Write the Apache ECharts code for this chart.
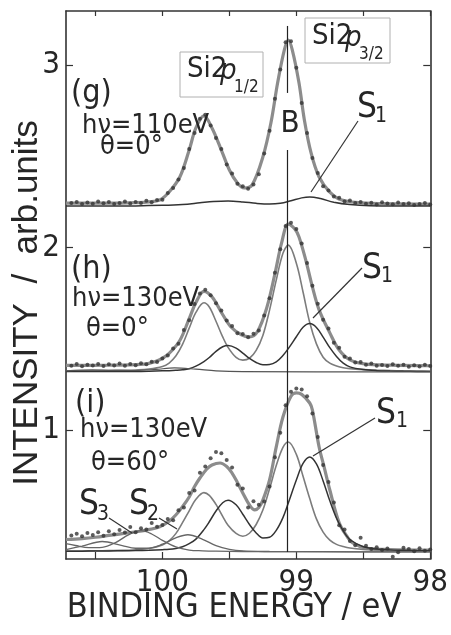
<!DOCTYPE html>
<html><head><meta charset="utf-8">
<script src="https://cdn.jsdelivr.net/npm/echarts@6/dist/echarts.min.js"></script>
<style>html,body{margin:0;padding:0;background:#fff}#c{width:451px;height:635px}</style>
</head><body><div id="c"></div>
<script>
// ---------- data (binding energy in eV, intensity in arb. units) ----------
const xTicks = [98, 98.5, 99, 99.5, 100, 100.5];
const xLabels = [98, 99, 100];
const yTicks = [1, 2, 3];

const dotE = [98.00,98.04,98.08,98.12,98.16,98.20,98.24,98.28,98.32,98.36,98.40,98.44,98.48,98.52,98.56,98.60,98.64,98.68,98.72,98.76,98.80,98.84,98.88,98.92,98.96,99.00,99.04,99.08,99.12,99.16,99.20,99.24,99.28,99.32,99.36,99.40,99.44,99.48,99.52,99.56,99.60,99.64,99.68,99.72,99.76,99.80,99.84,99.88,99.92,99.96,100.00,100.04,100.08,100.12,100.16,100.20,100.24,100.28,100.32,100.36,100.40,100.44,100.48,100.52,100.56,100.60,100.64,100.68];

// (g) hv=110eV, theta=0
const gDots = [2.236,2.244,2.239,2.233,2.243,2.238,2.246,2.237,2.241,2.248,2.236,2.245,2.240,2.250,2.244,2.257,2.252,2.272,2.280,2.312,2.336,2.408,2.490,2.628,2.792,2.985,3.130,3.125,2.975,2.815,2.640,2.515,2.402,2.345,2.322,2.335,2.350,2.405,2.455,2.540,2.600,2.668,2.728,2.706,2.628,2.540,2.436,2.372,2.326,2.298,2.262,2.260,2.248,2.256,2.244,2.250,2.241,2.252,2.244,2.238,2.249,2.243,2.252,2.240,2.246,2.238,2.250,2.244];
const gFitE = [98.00,98.48,98.66,98.75,98.83,98.89,98.94,98.98,99.03,99.06,99.09,99.14,99.19,99.25,99.33,99.39,99.44,99.50,99.56,99.63,99.69,99.75,99.80,99.87,99.95,100.02,100.10,100.20,100.40,100.72];
const gFitV = [2.238,2.243,2.260,2.304,2.386,2.518,2.699,2.901,3.082,3.137,3.082,2.901,2.682,2.496,2.343,2.326,2.353,2.425,2.534,2.655,2.721,2.655,2.534,2.386,2.304,2.260,2.250,2.246,2.243,2.243];
const gS1E = [98.00,98.45,98.60,98.72,98.82,98.90,98.96,99.04,99.12,99.20,99.30,99.40,99.51,99.62,99.72,99.85,100.00,100.20,100.72];
const gS1V = [2.227,2.229,2.235,2.248,2.268,2.277,2.272,2.256,2.242,2.238,2.242,2.250,2.255,2.252,2.245,2.236,2.231,2.228,2.227];

// (h) hv=130eV, theta=0
const hDots = [1.350,1.358,1.348,1.355,1.346,1.357,1.352,1.360,1.350,1.356,1.352,1.364,1.358,1.372,1.370,1.392,1.402,1.450,1.478,1.556,1.604,1.692,1.790,1.915,2.022,2.102,2.135,2.118,1.990,1.862,1.722,1.628,1.545,1.528,1.508,1.526,1.530,1.570,1.600,1.655,1.695,1.738,1.768,1.748,1.690,1.602,1.548,1.472,1.446,1.408,1.392,1.372,1.374,1.360,1.366,1.355,1.362,1.352,1.364,1.354,1.360,1.350,1.362,1.354,1.358,1.349,1.361,1.352];
const hFitE = [98.00,98.30,98.49,98.60,98.68,98.75,98.83,98.88,98.93,98.98,99.01,99.06,99.11,99.16,99.22,99.29,99.35,99.41,99.49,99.56,99.63,99.69,99.75,99.80,99.87,99.95,100.02,100.10,100.20,100.40,100.72];
const hFitV = [1.352,1.355,1.362,1.384,1.438,1.532,1.658,1.784,1.932,2.058,2.100,2.128,2.025,1.855,1.672,1.540,1.510,1.522,1.566,1.645,1.730,1.760,1.698,1.610,1.490,1.420,1.385,1.365,1.358,1.355,1.354];
const compE = [98.00,98.10,98.20,98.30,98.40,98.50,98.60,98.65,98.70,98.75,98.80,98.85,98.90,98.95,99.00,99.06,99.10,99.15,99.20,99.25,99.30,99.35,99.40,99.45,99.51,99.55,99.60,99.65,99.69,99.75,99.80,99.85,99.90,99.95,100.00,100.10,100.20,100.30,100.40,100.50,100.60,100.72];
const hBulkV = [1.322,1.323,1.324,1.326,1.328,1.331,1.336,1.341,1.351,1.366,1.399,1.472,1.589,1.756,1.914,2.013,1.968,1.821,1.657,1.518,1.436,1.393,1.383,1.398,1.453,1.510,1.596,1.674,1.697,1.644,1.558,1.469,1.405,1.367,1.348,1.334,1.329,1.327,1.326,1.325,1.324,1.323];
const hS1V = [1.320,1.321,1.322,1.323,1.325,1.331,1.346,1.366,1.403,1.451,1.509,1.562,1.583,1.563,1.511,1.446,1.408,1.373,1.359,1.358,1.370,1.392,1.421,1.449,1.463,1.456,1.431,1.397,1.375,1.350,1.336,1.330,1.327,1.325,1.324,1.322,1.321,1.321,1.321,1.320,1.320,1.320];
const hS2E = [98.00,99.40,99.60,99.75,99.91,100.05,100.20,100.40,100.52,100.72];
const hS2V = [1.318,1.320,1.324,1.333,1.340,1.332,1.326,1.327,1.329,1.324];

// (i) hv=130eV, theta=60
const iDots = [0.345,0.338,0.352,0.336,0.348,0.355,0.330,0.306,0.350,0.342,0.358,0.348,0.365,0.410,0.368,0.392,0.455,0.478,0.602,0.715,0.808,0.962,1.090,1.185,1.222,1.228,1.210,1.135,0.985,0.850,0.690,0.608,0.590,0.610,0.575,0.680,0.700,0.795,0.835,0.872,0.880,0.845,0.800,0.765,0.668,0.655,0.575,0.560,0.505,0.512,0.480,0.470,0.490,0.455,0.462,0.440,0.468,0.438,0.452,0.428,0.445,0.420,0.440,0.425,0.436,0.418,0.432,0.422];
const iFitE = [98.00,98.30,98.48,98.58,98.62,98.68,98.75,98.79,98.83,98.88,98.90,98.96,99.00,99.04,99.10,99.15,99.20,99.25,99.28,99.31,99.35,99.40,99.44,99.48,99.52,99.57,99.63,99.67,99.72,99.76,99.80,99.85,99.90,99.95,100.02,100.13,100.20,100.30,100.40,100.50,100.60,100.72];
const iFitV = [0.342,0.345,0.353,0.381,0.415,0.491,0.671,0.790,0.907,1.109,1.148,1.195,1.203,1.185,1.071,0.907,0.726,0.616,0.575,0.562,0.589,0.655,0.712,0.764,0.800,0.819,0.808,0.785,0.737,0.690,0.633,0.580,0.534,0.500,0.470,0.450,0.442,0.432,0.422,0.412,0.405,0.400];
const iBulkV = [0.337,0.337,0.339,0.340,0.343,0.346,0.353,0.361,0.373,0.396,0.440,0.513,0.624,0.746,0.866,0.934,0.905,0.805,0.678,0.561,0.482,0.434,0.418,0.433,0.478,0.527,0.592,0.642,0.657,0.620,0.557,0.492,0.432,0.393,0.370,0.351,0.344,0.340,0.339,0.338,0.337,0.336];
const iS1V = [0.338,0.339,0.341,0.343,0.348,0.360,0.400,0.447,0.516,0.612,0.721,0.814,0.852,0.817,0.726,0.600,0.520,0.450,0.412,0.408,0.436,0.482,0.538,0.590,0.615,0.601,0.556,0.497,0.454,0.402,0.377,0.360,0.351,0.346,0.344,0.341,0.339,0.338,0.337,0.337,0.336,0.336];
const iS2E = [98.00,98.80,99.20,99.40,99.50,99.60,99.70,99.81,99.90,100.00,100.10,100.20,100.30,100.45,100.60,100.72];
const iS2V = [0.332,0.333,0.334,0.337,0.346,0.366,0.401,0.426,0.409,0.374,0.353,0.352,0.366,0.389,0.364,0.345];
const iS3E = [98.00,99.00,99.40,99.60,99.70,99.80,99.90,100.00,100.08,100.16,100.25,100.35,100.45,100.55,100.65,100.72];
const iS3V = [0.332,0.333,0.334,0.336,0.338,0.342,0.359,0.395,0.430,0.448,0.427,0.383,0.357,0.355,0.367,0.377];

// bulk reference line "B"
const bE = 99.07;
const bSegs = [[3.214, 2.847], [2.534, 0.332]];

// ---------- build ----------
const zip = (xs, ys) => xs.map((x, i) => [x, ys[i]]);
const NARROW = "'Liberation Sans Narrow','DejaVu Sans Condensed','Liberation Sans',sans-serif";
const REG = "'Liberation Sans',Arial,sans-serif";
const INK = '#262626';

function fit(data) { return {type:'line', data, smooth:0.35, showSymbol:false, z:2, lineStyle:{color:'#8c8c8c', width:3.2}, silent:true}; }
function comp(data, color, w) { return {type:'line', data, smooth:0.35, showSymbol:false, z:3, lineStyle:{color, width:w}, silent:true}; }
function dots(data) { return {type:'scatter', data, symbolSize:4, z:4, itemStyle:{color:'#333'}, silent:true}; }

const series = [
  fit(zip(gFitE, gFitV)), fit(zip(hFitE, hFitV)), fit(zip(iFitE, iFitV)),
  comp(zip(gS1E, gS1V), '#333', 1.5),
  comp(zip(compE, hBulkV), '#7c7c7c', 1.6), comp(zip(compE, hS1V), '#333', 1.5), comp(zip(hS2E, hS2V), '#555', 1.2),
  comp(zip(compE, iBulkV), '#7c7c7c', 1.6), comp(zip(compE, iS1V), '#333', 1.5),
  comp(zip(iS2E, iS2V), '#666', 1.3), comp(zip(iS3E, iS3V), '#666', 1.3),
  dots(zip(dotE, gDots)), dots(zip(dotE, hDots)), dots(zip(dotE, iDots)),
  {type:'line', data:[], silent:true, markLine:{symbol:'none', silent:true, label:{show:false},
    lineStyle:{color:'#222', width:1.2, type:'solid'},
    data: bSegs.map(s => [{coord:[bE, s[0]]}, {coord:[bE, s[1]]}])}}
];

function T(x, y, text, size, o) {
  o = o || {};
  return {type:'text', x, y, rotation:o.rot || 0, z:10, style:{text, font:(o.style||'') + ' ' + size + 'px ' + (o.fam || NARROW),
    fill:o.fill || INK, align:o.align || 'left', textAlign:o.align || 'left', verticalAlign:'middle', textVerticalAlign:'middle'}};
}
function L(x1, y1, x2, y2) { return {type:'line', z:10, shape:{x1, y1, x2, y2}, style:{stroke:'#333', lineWidth:1.2}}; }
function box(x, y, w, h) { return {type:'rect', z:9, shape:{x, y, width:w, height:h}, style:{fill:'#fff', stroke:'#b0b0b0', lineWidth:1}}; }

const graphic = [
  // axis titles
  T(234, 608, 'BINDING ENERGY / eV', 34, {align:'center'}),
  T(27, 303, 'INTENSITY  /  arb.units', 35, {align:'center', fam:REG, rot:Math.PI/2}),
  // Si2p labels
  box(180, 52, 83, 45), T(187, 69, 'Si2', 29), T(220, 71, 'p', 29, {style:'italic'}), T(234, 88, '1/2', 17),
  box(305, 18, 85, 45), T(312, 36, 'Si2', 29), T(345, 38, 'p', 29, {style:'italic'}), T(359, 55, '3/2', 17),
  // (g)
  T(71, 94, '(g)', 32), T(82, 126, 'hν=110eV', 27), T(100, 147, 'θ=0°', 27),
  T(290, 124, 'B', 31, {align:'center'}),
  T(357, 108, 'S', 35), T(375, 117, '1', 21), L(358, 121, 311, 192),
  // (h)
  T(71, 270, '(h)', 32), T(72, 299, 'hν=130eV', 27), T(86, 329, 'θ=0°', 27),
  T(362, 269, 'S', 35), T(381, 277, '1', 21), L(362, 268, 313, 318),
  // (i)
  T(75, 404, '(i)', 32), T(80, 430, 'hν=130eV', 27), T(91, 463, 'θ=60°', 27),
  T(376, 414, 'S', 35), T(396, 422, '1', 21), L(375, 418, 313, 456),
  T(79, 505, 'S', 35), T(97, 515, '3', 21), L(109, 518, 132, 533),
  T(129, 505, 'S', 35), T(147, 515, '2', 21), L(159, 518, 177, 529)
];

const axLine = {show:true, lineStyle:{color:'#333', width:1.6}};
const option = {
  animation:false,
  backgroundColor:'#fff',
  grid:{left:66, right:19, top:11, bottom:76, containLabel:false},
  xAxis:[
    {type:'value', min:98, max:100.72, inverse:true, position:'bottom', axisLine:axLine, splitLine:{show:false},
     axisTick:{show:true, inside:true, length:7, customValues:xTicks, lineStyle:{color:'#333', width:1.2}},
     axisLabel:{show:true, customValues:xLabels, margin:8, fontSize:31, fontFamily:NARROW, color:INK}},
    {type:'value', min:98, max:100.72, inverse:true, position:'top', axisLine:axLine, splitLine:{show:false},
     axisTick:{show:true, inside:true, length:5, customValues:xTicks, lineStyle:{color:'#333', width:1.2}},
     axisLabel:{show:false}}
  ],
  yAxis:[
    {type:'value', min:0.293, max:3.296, position:'left', axisLine:axLine, splitLine:{show:false},
     axisTick:{show:true, inside:true, length:7, customValues:yTicks, lineStyle:{color:'#333', width:1.2}},
     axisLabel:{show:true, customValues:yTicks, margin:6, fontSize:31, fontFamily:NARROW, color:INK}},
    {type:'value', min:0.293, max:3.296, position:'right', axisLine:axLine, splitLine:{show:false},
     axisTick:{show:true, inside:true, length:7, customValues:yTicks, lineStyle:{color:'#333', width:1.2}},
     axisLabel:{show:false}}
  ],
  series: series.map(s => Object.assign({xAxisIndex:0, yAxisIndex:0}, s)),
  graphic
};
const chart = echarts.init(document.getElementById('c'), null, {renderer:'canvas'});
chart.setOption(option);
</script></body></html>
